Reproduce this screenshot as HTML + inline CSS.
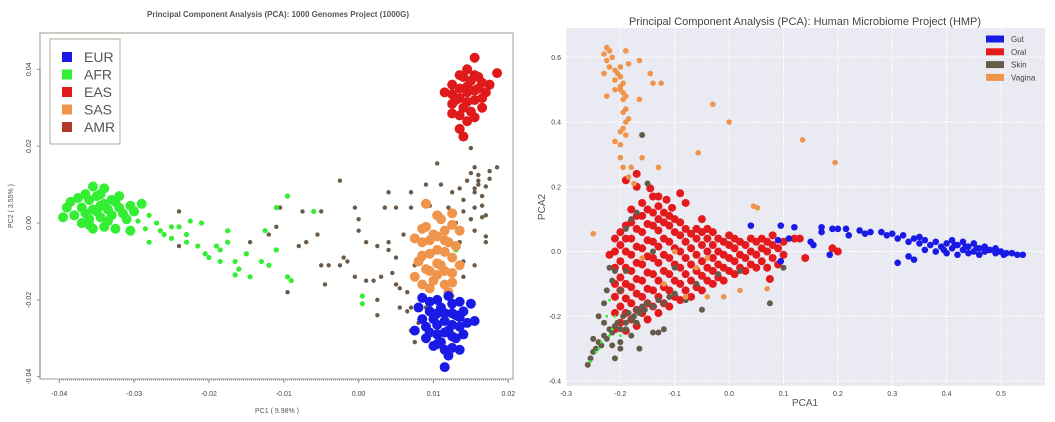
<!DOCTYPE html>
<html><head><meta charset="utf-8"><style>
body{margin:0;background:#fff;width:1055px;height:422px;overflow:hidden;font-family:"Liberation Sans",sans-serif}
svg{display:block}
</style></head><body>
<svg id="c" width="1055" height="422">
<g id="L"></g>
<g id="R"></g>
</svg>
<script>
// ---------- LEFT PANEL DATA (PC1, PC2) ----------
const leftXTicks=[-0.04,-0.03,-0.02,-0.01,0.00,0.01,0.02];
const leftXTickLabels=["-0.04","-0.03","-0.02","-0.01","0.00","0.01","0.02"];
const leftYTicks=[0.04,0.02,0.00,-0.02,-0.04];
const leftYTickLabels=["0.04","0.02","0.00","-0.02","-0.04"];
const leftGroups=["AMR","AFR","AFRcore","SAS","EAS","EUR"];
const amrPts="-0.024,0.003 -0.024,-0.006 -0.0145,-0.005 -0.012,-0.003 -0.011,-0.001 -0.0105,0.004 -0.008,-0.006 -0.0075,0.003 -0.007,-0.005 -0.005,0.003 -0.0055,-0.003 -0.005,-0.011 -0.0045,-0.016 -0.004,-0.011 -0.0025,0.011 -0.0025,-0.011 -0.002,-0.009 -0.0015,-0.010 -0.0005,0.004 0.0,0.001 0.0,-0.002 -0.0005,-0.014 0.001,-0.015 0.001,-0.005 0.002,-0.015 0.0025,-0.006 0.0025,-0.020 0.0025,-0.024 0.003,-0.014 0.0035,0.004 0.004,0.008 0.004,-0.005 0.004,-0.007 0.0045,-0.013 0.005,-0.009 0.005,-0.016 0.005,0.004 0.0055,-0.017 0.0055,-0.022 0.006,-0.003 0.0065,-0.018 0.0065,-0.023 0.007,-0.028 0.0075,-0.031 0.007,0.004 0.007,0.008 0.0075,-0.011 0.0085,-0.0095 0.0085,-0.019 0.009,0.010 0.0095,0.0045 0.0105,0.0155 0.011,0.010 0.012,0.004 0.0125,0.008 0.013,0.000 0.0135,0.009 0.014,0.006 0.014,0.003 0.0145,0.011 0.015,0.013 0.0155,0.008 0.015,0.001 0.0155,0.004 0.0155,-0.002 0.016,0.011 0.0165,0.007 0.016,0.0125 0.0165,0.0045 0.017,0.0095 0.017,0.002 0.0175,0.0135 0.017,-0.005 0.017,-0.0035 0.0155,-0.011 0.014,-0.010 0.0135,-0.005 0.015,0.0195 0.0175,0.0115 0.0185,0.0145 0.016,0.010 0.014,-0.014 0.0125,-0.019 0.009,-0.022 0.008,-0.026 0.007,-0.022 -0.0095,-0.018 0.0155,0.0145 0.0155,0.009 0.0165,0.0015";
const afrPts="-0.028,0.002 -0.027,0.000 -0.0265,-0.002 -0.026,-0.003 -0.025,-0.001 -0.024,-0.001 -0.0225,0.0005 -0.023,-0.003 -0.021,0.000 -0.0215,-0.006 -0.0205,-0.008 -0.019,-0.006 -0.0185,-0.010 -0.0175,-0.002 -0.0175,-0.005 -0.0165,-0.010 -0.016,-0.012 -0.015,-0.008 -0.0145,-0.014 -0.013,-0.010 -0.012,-0.011 -0.0125,-0.002 -0.011,-0.007 -0.011,0.004 -0.0095,0.007 -0.0095,-0.014 -0.009,-0.015 -0.006,0.003 -0.0165,-0.0135 -0.0185,-0.007 -0.020,-0.009 -0.023,-0.005 -0.025,-0.004 -0.028,-0.005 0.0005,-0.019 0.0005,-0.021 0.013,-0.007 -0.0295,0.0005 -0.0285,-0.0015";
const afrCorePts="-0.035,0.003 -0.034,0.005 -0.036,0.001 -0.033,0.002 -0.037,0.004 -0.035,0.007 -0.032,0.004 -0.038,0.002 -0.034,-0.001 -0.036,0.006 -0.031,0.001 -0.033,0.006 -0.037,0.000 -0.039,0.004 -0.030,0.003 -0.0355,0.0095 -0.032,0.007 -0.034,0.009 -0.036,-0.0005 -0.0305,-0.002 -0.029,0.005 -0.0335,0.0035 -0.0355,0.0035 -0.0345,0.0015 -0.0325,-0.0015 -0.0375,0.0065 -0.0395,0.0015 -0.0345,0.0045 -0.0365,0.0025 -0.0315,0.0025 -0.0335,0.0005 -0.0385,0.0055 -0.0325,0.0055 -0.0365,0.0075 -0.0305,0.0045 -0.0355,-0.0015 -0.0345,0.0075";
const sasPts="0.0105,-0.007 0.010,-0.003 0.011,-0.011 0.0095,-0.008 0.012,-0.005 0.009,-0.012 0.0115,-0.002 0.0085,-0.005 0.0125,-0.009 0.010,-0.015 0.011,0.001 0.009,-0.001 0.0125,-0.013 0.0095,-0.017 0.0115,-0.016 0.008,-0.010 0.013,-0.006 0.0075,-0.014 0.0135,-0.002 0.0105,0.002 0.009,0.005 0.0125,0.0025 0.012,-0.018 0.0085,-0.016 0.0105,-0.0105 0.0105,-0.0035 0.0115,-0.0075 0.0095,-0.0045 0.0075,-0.004 0.0135,-0.011 0.0095,-0.0125 0.0115,-0.0125 0.0085,-0.0085 0.0125,-0.0005 0.0105,-0.0135 0.0085,-0.0015 0.0115,-0.0045 0.0125,-0.0155";
const easPts="0.0145,0.034 0.014,0.030 0.015,0.037 0.0135,0.035 0.0155,0.032 0.013,0.032 0.016,0.035 0.014,0.038 0.015,0.029 0.0125,0.036 0.0165,0.030 0.0145,0.0265 0.0135,0.028 0.016,0.038 0.0125,0.031 0.017,0.034 0.0145,0.040 0.0155,0.0275 0.0115,0.034 0.0175,0.036 0.0135,0.0245 0.0155,0.043 0.0185,0.039 0.014,0.0225 0.0145,0.0355 0.0145,0.0315 0.0155,0.0345 0.0135,0.0325 0.0165,0.0325 0.0125,0.0335 0.0155,0.0385 0.0135,0.0385 0.0165,0.0365 0.0125,0.0285";
const eurPts="0.0115,-0.0255 0.011,-0.022 0.012,-0.028 0.010,-0.025 0.013,-0.024 0.0105,-0.029 0.0125,-0.021 0.0095,-0.023 0.0135,-0.027 0.011,-0.031 0.012,-0.019 0.009,-0.027 0.014,-0.023 0.0115,-0.033 0.0105,-0.020 0.013,-0.030 0.0085,-0.025 0.0145,-0.026 0.010,-0.032 0.0125,-0.0325 0.0115,-0.0235 0.0125,-0.0265 0.0105,-0.0265 0.0115,-0.0285 0.0135,-0.0205 0.0095,-0.0205 0.008,-0.022 0.015,-0.021 0.0155,-0.0255 0.0075,-0.028 0.0115,-0.0375 0.0135,-0.033 0.009,-0.030 0.0105,-0.0235 0.0125,-0.0235 0.014,-0.029 0.0085,-0.0195 0.012,-0.0345 0.0095,-0.0285 0.0125,-0.0295 0.0135,-0.0245 0.0105,-0.0315";
const leftColors=["#6b5a48","#33ee33","#33ee33","#f0944c","#e01a1a","#1a1ae6"];
const leftLegend=["EUR","AFR","EAS","SAS","AMR"];
const leftLegendColors=["#1a1ae6","#33ee33","#e01a1a","#f0944c","#b03a2a"];

// ---------- RIGHT PANEL DATA (PCA1, PCA2) ----------
const rightXTicks=[-0.3,-0.2,-0.1,0.0,0.1,0.2,0.3,0.4,0.5];
const rightXTickLabels=["-0.3","-0.2","-0.1","0.0","0.1","0.2","0.3","0.4","0.5"];
const rightYTicks=[0.6,0.4,0.2,0.0,-0.2,-0.4];
const rightYTickLabels=["0.6","0.4","0.2","0.0","-0.2","-0.4"];
const rightGroups=["Oral","Skin","Gut","Vagina","SkinSpeck"];
const oralPts="-0.20,-0.22 -0.20,-0.17 -0.20,-0.12 -0.20,-0.08 -0.20,-0.03 -0.20,0.02 -0.20,0.06 -0.18,-0.21 -0.18,-0.16 -0.18,-0.11 -0.18,-0.06 -0.18,-0.01 -0.18,0.04 -0.18,0.09 -0.18,0.13 -0.16,-0.19 -0.16,-0.14 -0.16,-0.09 -0.16,-0.04 -0.16,0.01 -0.16,0.06 -0.16,0.11 -0.16,0.15 -0.14,-0.17 -0.14,-0.12 -0.14,-0.07 -0.14,-0.02 -0.14,0.03 -0.14,0.08 -0.14,0.12 -0.14,0.17 -0.12,-0.16 -0.12,-0.11 -0.12,-0.06 -0.12,-0.01 -0.12,0.04 -0.12,0.09 -0.12,0.12 -0.10,-0.14 -0.10,-0.09 -0.10,-0.04 -0.10,0.01 -0.10,0.06 -0.10,0.10 -0.08,-0.12 -0.08,-0.07 -0.08,-0.02 -0.08,0.03 -0.08,0.07 -0.06,-0.11 -0.06,-0.06 -0.06,-0.01 -0.06,0.04 -0.06,0.07 -0.04,-0.09 -0.04,-0.05 -0.04,0.0 -0.04,0.04 -0.04,0.07 -0.02,-0.08 -0.02,-0.04 -0.02,0.0 -0.02,0.04 0.00,-0.06 0.00,-0.02 0.00,0.02 0.00,0.05 0.02,-0.05 0.02,-0.01 0.02,0.03 0.04,-0.04 0.04,0.0 0.04,0.04 0.06,-0.03 0.06,0.01 0.06,0.04 0.08,-0.02 0.08,0.02 0.08,0.05 0.10,-0.01 0.10,0.03 -0.21,-0.24 -0.21,-0.19 -0.21,-0.14 -0.21,-0.10 -0.21,-0.05 -0.21,0.0 -0.19,-0.245 -0.19,-0.19 -0.19,-0.145 -0.19,-0.10 -0.19,-0.05 -0.19,0.0 -0.19,0.04 -0.19,0.08 -0.17,-0.23 -0.17,-0.18 -0.17,-0.13 -0.17,-0.085 -0.17,-0.035 -0.17,0.015 -0.17,0.07 -0.17,0.11 -0.15,-0.21 -0.15,-0.16 -0.15,-0.115 -0.15,-0.065 -0.15,-0.015 -0.15,0.035 -0.15,0.085 -0.15,0.13 -0.13,-0.19 -0.13,-0.14 -0.13,-0.09 -0.13,-0.035 -0.13,0.015 -0.13,0.065 -0.13,0.10 -0.13,0.14 -0.11,-0.17 -0.11,-0.12 -0.11,-0.07 -0.11,-0.02 -0.11,0.03 -0.11,0.08 -0.11,0.11 -0.09,-0.15 -0.09,-0.10 -0.09,-0.05 -0.09,0.0 -0.09,0.05 -0.09,0.09 -0.07,-0.14 -0.07,-0.09 -0.07,-0.04 -0.07,0.01 -0.07,0.055 -0.05,-0.12 -0.05,-0.075 -0.05,-0.03 -0.05,0.02 -0.05,0.06 -0.03,-0.10 -0.03,-0.06 -0.03,-0.02 -0.03,0.02 -0.03,0.06 -0.01,-0.09 -0.01,-0.05 -0.01,-0.01 -0.01,0.03 0.01,-0.07 0.01,-0.03 0.01,0.01 0.01,0.04 0.03,-0.06 0.03,-0.02 0.03,0.02 0.05,-0.05 0.05,-0.01 0.05,0.03 0.07,-0.05 0.07,0.0 0.07,0.03 0.09,-0.04 0.09,0.01 0.14,-0.02 0.13,0.04 0.12,0.04 0.2,0.0 0.19,0.01 -0.17,0.24 -0.13,0.17 -0.09,0.18 -0.115,0.16 -0.19,0.22 -0.21,0.04 -0.22,-0.01 -0.08,0.15 -0.05,0.1 0.075,-0.085 -0.17,0.2 -0.145,0.195 -0.105,0.135";
const skinPts="-0.26,-0.35 -0.255,-0.33 -0.25,-0.31 -0.245,-0.3 -0.24,-0.28 -0.235,-0.29 -0.23,-0.26 -0.225,-0.27 -0.22,-0.24 -0.215,-0.25 -0.21,-0.23 -0.205,-0.22 -0.2,-0.24 -0.195,-0.2 -0.19,-0.22 -0.185,-0.19 -0.18,-0.21 -0.175,-0.2 -0.17,-0.18 -0.165,-0.19 -0.16,-0.17 -0.155,-0.18 -0.15,-0.16 -0.14,-0.17 -0.13,-0.15 -0.12,-0.16 -0.11,-0.14 -0.1,-0.13 -0.23,-0.16 -0.225,-0.12 -0.22,-0.05 -0.215,-0.09 -0.21,-0.06 -0.24,-0.2 -0.23,-0.22 -0.25,-0.27 -0.2,-0.3 -0.21,-0.33 -0.165,-0.3 -0.12,-0.24 -0.13,-0.25 -0.14,-0.25 -0.19,0.07 -0.18,0.1 -0.17,0.12 -0.16,0.36 -0.15,0.21 -0.08,-0.15 -0.05,-0.18 0.075,-0.16 0.1,-0.05 -0.2,-0.28 -0.215,-0.29 -0.18,-0.26 -0.19,-0.24 -0.17,-0.22 -0.2,-0.12 -0.19,-0.06 -0.06,-0.1 -0.02,-0.07 0.02,-0.06 -0.1,-0.05 -0.14,0.0";
const gutPts="0.04,0.08 0.095,0.08 0.09,0.035 0.12,0.075 0.11,0.04 0.15,0.03 0.155,0.02 0.17,0.075 0.17,0.06 0.19,0.07 0.2,0.07 0.215,0.07 0.22,0.05 0.24,0.065 0.25,0.055 0.26,0.06 0.28,0.06 0.29,0.05 0.3,0.055 0.31,0.04 0.32,0.05 0.33,0.03 0.34,0.04 0.35,0.025 0.36,0.035 0.37,0.02 0.38,0.03 0.39,0.015 0.40,0.025 0.41,0.01 0.42,0.02 0.43,0.005 0.44,0.015 0.45,0.0 0.46,0.01 0.47,0.0 0.48,0.005 0.49,-0.005 0.50,0.0 0.51,-0.005 0.52,-0.005 0.53,-0.01 0.54,-0.01 0.38,0.0 0.40,-0.005 0.42,-0.01 0.44,-0.005 0.46,-0.01 0.36,0.005 0.43,0.03 0.33,-0.015 0.31,-0.035 0.34,-0.025 0.47,0.015 0.49,0.01 0.505,-0.01 0.41,0.035 0.35,0.045 0.45,0.025 0.185,-0.01 0.095,-0.03 0.395,0.005 0.415,0.02 0.435,0.015 0.455,0.01 0.475,0.005 0.495,0.0";
const vagPts="-0.225,0.63 -0.22,0.62 -0.23,0.61 -0.215,0.6 -0.225,0.59 -0.22,0.57 -0.21,0.56 -0.205,0.55 -0.2,0.54 -0.21,0.53 -0.195,0.52 -0.2,0.51 -0.195,0.49 -0.2,0.5 -0.195,0.47 -0.19,0.44 -0.195,0.43 -0.185,0.41 -0.19,0.4 -0.195,0.38 -0.2,0.37 -0.19,0.36 -0.2,0.33 -0.2,0.29 -0.195,0.26 -0.185,0.23 -0.18,0.26 -0.175,0.21 -0.19,0.62 -0.185,0.58 -0.165,0.59 -0.145,0.55 -0.14,0.52 -0.125,0.52 -0.165,0.47 -0.21,0.5 -0.225,0.48 -0.21,0.34 -0.19,0.48 -0.2,0.57 -0.23,0.55 -0.03,0.455 0.0,0.4 0.135,0.345 0.195,0.275 -0.057,0.305 -0.13,0.26 -0.16,0.29 0.045,0.14 0.052,0.135 -0.25,0.055 -0.08,-0.14 -0.04,-0.14 0.02,-0.12 -0.01,-0.14 0.07,-0.115 -0.12,-0.1 -0.06,-0.05 -0.16,-0.02 -0.1,0.0 -0.04,-0.02";
const skinSpeckPts="-0.255,-0.34 -0.245,-0.31 -0.235,-0.28 -0.22,-0.26 -0.21,-0.2 -0.22,-0.15 -0.2,-0.26 -0.225,-0.2 -0.24,-0.3 -0.215,-0.24";
const rightColors=["#e41a1c","#655b4a","#1a1ae6","#f0944c","#33ee33"];
const rightLegend=["Gut","Oral","Skin","Vagina"];
const rightLegendColors=["#1a1ae6","#e41a1c","#655b4a","#f0944c"];

const NS="http://www.w3.org/2000/svg";
function mk(parent,tag,attrs){const e=document.createElementNS(NS,tag);for(const k in attrs)e.setAttribute(k,attrs[k]);parent.appendChild(e);return e;}
function parse(s){return s.trim().split(/\s+/).map(p=>p.split(",").map(Number));}

// ---- Left axes ----
const lx=v=>59.3+(v+0.04)*(449/0.06);
const ly=v=>69.3+(0.04-v)*(307.4/0.08);
const L=document.getElementById("L");
let t=mk(L,"text",{x:278,y:17,"text-anchor":"middle","font-size":"8","font-weight":"bold",fill:"#555"});t.textContent="Principal Component Analysis (PCA): 1000 Genomes Project (1000G)";


let fr=mk(L,"rect",{x:40,y:33,width:473,height:346,fill:"#fff",stroke:"#b0a89e","stroke-width":1.2});


mk(L,"line",{x1:59,x2:508,y1:380,y2:380,stroke:"#888","stroke-dasharray":"1,1"});
mk(L,"line",{x1:40,x2:40,y1:69,y2:377,stroke:"#888"});
leftXTicks.forEach((v,i)=>{const e=mk(L,"text",{x:lx(v),y:396,"text-anchor":"middle","font-size":"7",fill:"#444"});e.textContent=leftXTickLabels[i];


mk(L,"line",{x1:lx(v),x2:lx(v),y1:380,y2:383,stroke:"#888"});});
leftYTicks.forEach((v,i)=>{const e=mk(L,"text",{x:0,y:0,"text-anchor":"middle","font-size":"7",fill:"#444",transform:`translate(31,${ly(v)}) rotate(-90)`});e.textContent=leftYTickLabels[i];


mk(L,"line",{x1:37,x2:40,y1:ly(v),y2:ly(v),stroke:"#888"});});
t=mk(L,"text",{x:277,y:413,"text-anchor":"middle","font-size":"7",fill:"#555"});t.textContent="PC1 ( 9.98% )";


t=mk(L,"text",{x:0,y:0,"text-anchor":"middle","font-size":"7",fill:"#555",transform:"translate(13,206) rotate(-90)"});t.textContent="PC2 ( 3.55% )";


const leftRadii=[2.2,2.6,5,5,5,5];
[amrPts,afrPts,afrCorePts,sasPts,easPts,eurPts].forEach((s,gi)=>{
 const r=leftRadii[gi];
 parse(s).forEach(p=>{const c=mk(L,"circle",{cx:lx(p[0]),cy:ly(p[1]),r:r,fill:leftColors[gi]});
 
 });
});
let lg=mk(L,"rect",{x:50,y:39,width:70,height:105,fill:"#fff",stroke:"#b0a89e"});


leftLegend.forEach((n,i)=>{const y=57+i*17.5;
 const sw=mk(L,"rect",{x:62,y:y-5,width:10,height:10,fill:leftLegendColors[i]});
 
 
 const e=mk(L,"text",{x:84,y:y+5,"font-size":"14",fill:"#555"});e.textContent=n;
 
 });

// ---- Right axes ----
const rx=v=>566+(v+0.3)*(435/0.8);
const ry=v=>57.3+(0.6-v)*323.7;
const R=document.getElementById("R");
let bg=mk(R,"rect",{x:566,y:28,width:479,height:358,fill:"#eaeaf2"});


rightXTicks.forEach((v,i)=>{mk(R,"line",{x1:rx(v),x2:rx(v),y1:28,y2:386,stroke:"#fff","stroke-width":1,"stroke-dasharray":"2,1"});
 const e=mk(R,"text",{x:rx(v),y:396,"text-anchor":"middle","font-size":"7",fill:"#444"});e.textContent=rightXTickLabels[i];
 
 });
rightYTicks.forEach((v,i)=>{mk(R,"line",{x1:566,x2:1045,y1:ry(v),y2:ry(v),stroke:"#fff","stroke-width":1,"stroke-dasharray":"2,1"});
 const e=mk(R,"text",{x:561,y:ry(v)+2.5,"text-anchor":"end","font-size":"7",fill:"#444"});e.textContent=rightYTickLabels[i];
 
 });
t=mk(R,"text",{x:805,y:25,"text-anchor":"middle","font-size":"11",fill:"#444"});t.textContent="Principal Component Analysis (PCA): Human Microbiome Project (HMP)";


t=mk(R,"text",{x:805,y:406,"text-anchor":"middle","font-size":"10",fill:"#555"});t.textContent="PCA1";


t=mk(R,"text",{x:0,y:0,"text-anchor":"middle","font-size":"10",fill:"#555",transform:"translate(545,207) rotate(-90)"});t.textContent="PCA2";


const rightRadii=[4,3,3.3,2.8,1.4];
[oralPts,skinPts,gutPts,vagPts,skinSpeckPts].forEach((s,gi)=>{
 const r=rightRadii[gi];
 parse(s).forEach(p=>{const c=mk(R,"circle",{cx:rx(p[0]),cy:ry(p[1]),r:r,fill:rightColors[gi]});
 
 });
});
rightLegend.forEach((n,i)=>{const y=39+i*12.8;
 const sw=mk(R,"rect",{x:986,y:y-3.5,width:18,height:7,fill:rightLegendColors[i]});
 
 
 const e=mk(R,"text",{x:1011,y:y+3,"font-size":"8",fill:"#444"});e.textContent=n;
 
 });
</script>
</body></html>
